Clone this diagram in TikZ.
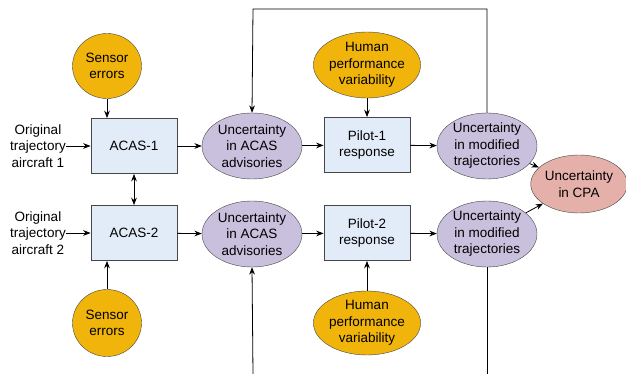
\documentclass[tikz,border=0pt]{standalone}
\usepackage{fontspec}
\setmainfont{Liberation Sans}
\usepackage{tikz}
\usetikzlibrary{arrows.meta,shapes.geometric}

\definecolor{errfill}{RGB}{240,180,10}
\definecolor{uncfill}{RGB}{200,192,220}
\definecolor{cpafill}{RGB}{230,176,170}
\definecolor{boxfill}{RGB}{226,236,248}
\definecolor{edgegray}{RGB}{70,70,70}

\begin{document}
\begin{tikzpicture}[x=1pt,y=-1pt,>={Stealth[length=2.6mm,width=2mm]},
  font=\fontsize{13.5}{16.5}\selectfont,
  srcnode/.style={ellipse,draw=edgegray,fill=errfill,inner sep=0pt,align=center},
  uncnode/.style={ellipse,draw=edgegray,fill=uncfill,inner sep=0pt,align=center,minimum width=100pt,minimum height=66pt},
  procbox/.style={rectangle,draw=edgegray,line width=0.9pt,fill=boxfill,align=center,minimum width=86pt,minimum height=55pt},
  flow/.style={->,line width=0.8pt}]
  \useasboundingbox (0,0) rectangle (626,374);
  % aircraft 1
  \node[align=center,inner sep=0pt] (orig1) at (38,146) {Original\\trajectory\\aircraft 1};
  \node[srcnode,minimum width=69pt,minimum height=65pt] (sens1) at (107,66) {Sensor\\errors};
  \node[procbox] (acas1) at (134,146) {ACAS-1};
  \node[uncnode] (adv1) at (252,146) {Uncertainty\\in ACAS\\advisories};
  \node[srcnode,minimum width=98pt,minimum height=66pt] (hum1) at (367,65) {Human\\performance\\variability};
  \node[procbox] (pilot1) at (367,145) {Pilot-1\\response};
  \node[uncnode] (traj1) at (487,146) {Uncertainty\\in modified\\trajectories};
  % aircraft 2
  \node[align=center,inner sep=0pt] (orig2) at (38,233) {Original\\trajectory\\aircraft 2};
  \node[srcnode,minimum width=69pt,minimum height=67pt] (sens2) at (107,323) {Sensor\\errors};
  \node[procbox] (acas2) at (134,233) {ACAS-2};
  \node[uncnode] (adv2) at (252,234) {Uncertainty\\in ACAS\\advisories};
  \node[srcnode,minimum width=98pt,minimum height=64pt] (hum2) at (367,323) {Human\\performance\\variability};
  \node[procbox] (pilot2) at (367,233) {Pilot-2\\response};
  \node[uncnode] (traj2) at (487,234) {Uncertainty\\in modified\\trajectories};
  % outcome
  \node[ellipse,draw=edgegray,fill=cpafill,inner sep=0pt,align=center,minimum width=78pt,minimum height=58pt] (cpa) at (579,184) {Uncertainty\\in CPA};
  % feedback ends
  \coordinate (topright) at (487,9);
  \coordinate (topleft) at (253,9);
  \coordinate (botright) at (487,374);
  \coordinate (botleft) at (253,374);

  \draw[flow] (orig1) -- (acas1);
  \draw[flow] (sens1.south) -- (sens1.south |- acas1.north);
  \draw[flow] (acas1) -- (adv1);
  \draw[flow] (adv1) -- (pilot1);
  \draw[flow] (hum1) -- (pilot1);
  \draw[flow] (pilot1) -- (traj1);
  \draw[flow] (traj1) -- (cpa);
  \draw[flow] (orig2) -- (acas2);
  \draw[flow] (sens2.north) -- (sens2.north |- acas2.south);
  \draw[flow] (acas2) -- (adv2);
  \draw[flow] (adv2) -- (pilot2);
  \draw[flow] (hum2) -- (pilot2);
  \draw[flow] (pilot2) -- (traj2);
  \draw[flow] (traj2) -- (cpa);
  \draw[flow,<->] (acas1) -- (acas2);
  \draw[flow] (traj1.north) -- (topright) -- (topleft) -- (adv1.north);
  \draw[line width=0.8pt] (traj2.south) -- (botright);
  \draw[flow] (botleft) -- (adv2.south);
\end{tikzpicture}
\end{document}
